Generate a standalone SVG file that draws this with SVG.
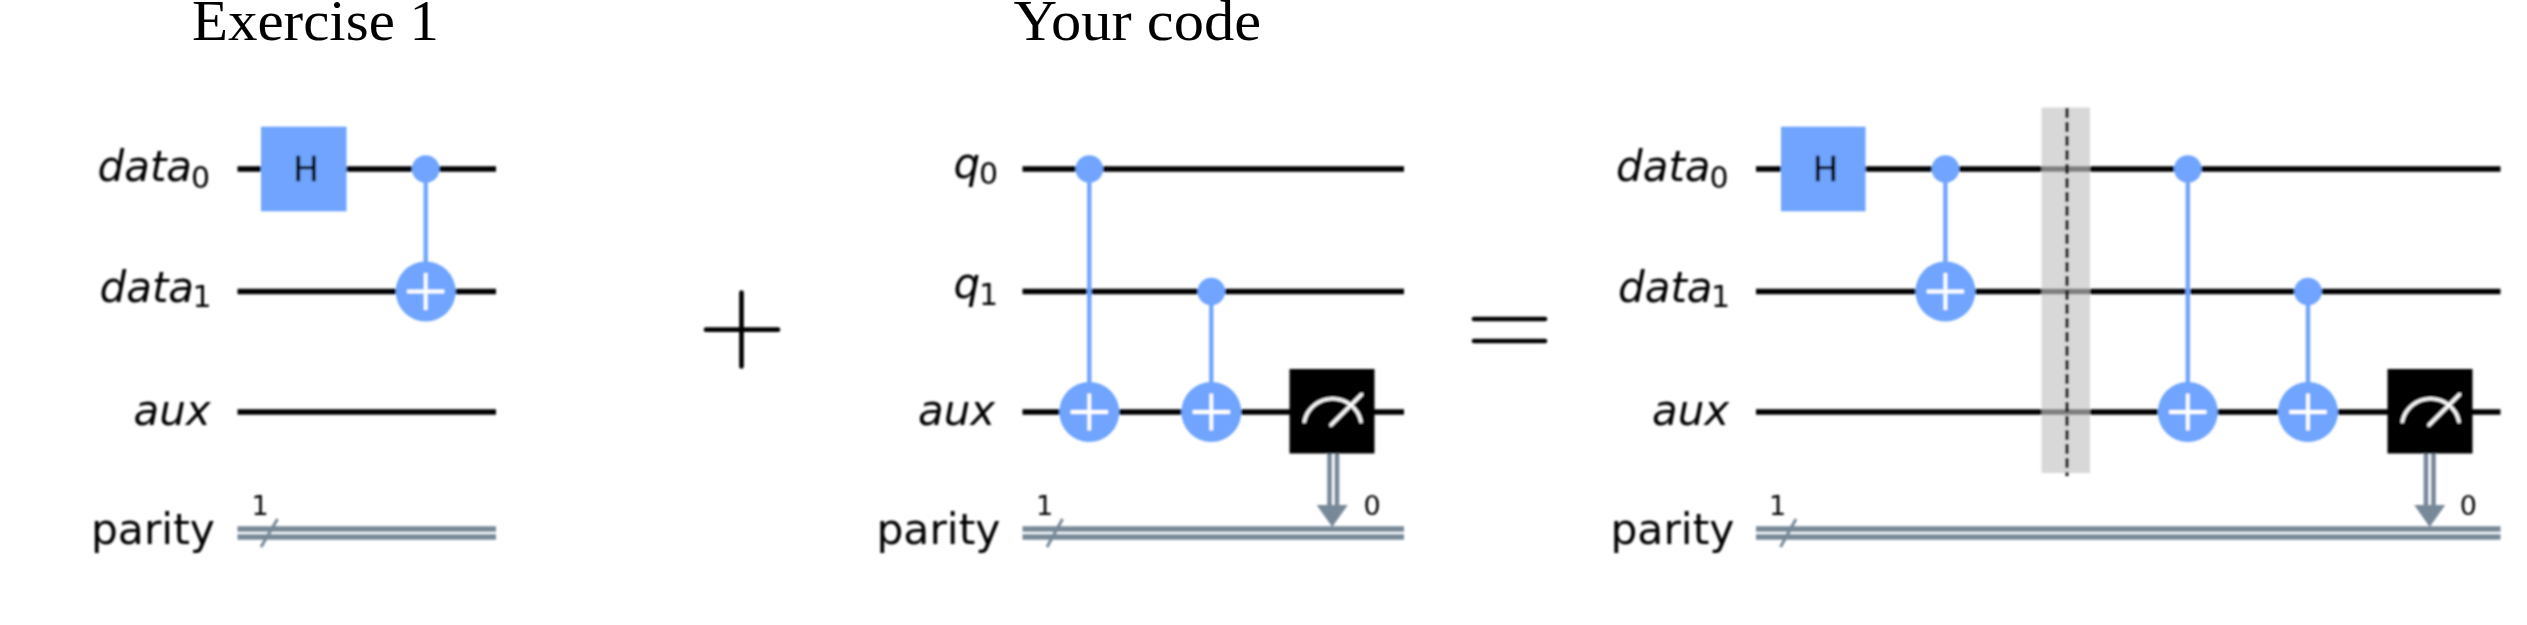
<svg xmlns="http://www.w3.org/2000/svg" width="2527" height="625" viewBox="0 0 2527 625">
<style>
text{font-family:"DejaVu Sans",sans-serif;fill:#000}
.title{font-family:"Liberation Serif","Times New Roman",serif;font-size:56px;filter:url(#s1)}
.lab{font-size:42px}
.par{font-size:42.5px;text-anchor:end}
.it{font-style:italic}
.sub{font-size:30px}
.num{font-size:27px;text-anchor:middle}
.gate{font-size:34px;text-anchor:middle;stroke:#000;stroke-width:.5}
.w{stroke:#000;stroke-width:5.4;fill:none}
.c{stroke:#778899;stroke-width:5.4;fill:none}
.sl{stroke:#778899;stroke-width:3;fill:none}
.v{stroke:#6fa4ff;stroke-width:4.4;fill:none}
.blue{fill:#6fa4ff}
.plus{stroke:#fff;stroke-width:3.8;fill:none}
.m{stroke:#fff;stroke-width:3.4;fill:none;stroke-linecap:round}
.arr{fill:#778899}
.bar{fill:#c3c3c3;fill-opacity:.65}
.dash{stroke:#000;stroke-width:3;stroke-dasharray:10 4;fill:none}
.op{stroke:#000;stroke-width:4.7;stroke-linecap:round;fill:none}
.soft{filter:url(#s2)}
</style>
<defs>
<filter id="s1" x="-5%" y="-20%" width="110%" height="140%"><feGaussianBlur stdDeviation="0.5"/></filter>
<filter id="s2" filterUnits="userSpaceOnUse" x="0" y="0" width="2527" height="625"><feGaussianBlur stdDeviation="0.8"/></filter>
</defs>
<rect width="2527" height="625" fill="#fff"/>
<text id="title-exercise" class="title" x="192" y="40" textLength="247" lengthAdjust="spacingAndGlyphs">Exercise 1</text>
<text id="title-code" class="title" x="1013.5" y="40" textLength="247.5" lengthAdjust="spacingAndGlyphs">Your code</text>
<g class="soft">
<g id="connectors">
<path class="w" d="M237.5 169H496M237.5 291.5H496M237.5 412H496"/>
<path class="c" d="M237.5 529H496M237.5 537H496"/>
<path class="sl" d="M261 547L277.5 519"/>
<path class="v" d="M425.7 169V291.5"/>
<path class="w" d="M1022.5 169H1404M1022.5 291.5H1404M1022.5 412H1404"/>
<path class="c" d="M1022.5 529H1404M1022.5 537H1404"/>
<path class="sl" d="M1047 547L1062.5 519"/>
<path class="v" d="M1089.3 169V412M1211.3 291.5V412"/>
<path class="c" style="stroke-width:4.6" d="M1329.5 453V508M1337 453V508"/>
<path class="w" d="M1756 169H2500.5M1756 291.5H2500.5M1756 412H2500.5"/>
<path class="c" d="M1756 529H2500.5M1756 537H2500.5"/>
<path class="sl" d="M1780.5 547L1796 519"/>
<path class="v" d="M1945.4 169V291.5M2187.8 169V412M2308 291.5V412"/>
<path class="c" style="stroke-width:4.6" d="M2426 453V508M2433.5 453V508"/>
</g>
<g id="circuit-exercise">
<g id="ex-label-data0"><text class="lab it" x="97.5" y="181">data</text><text class="sub" x="191" y="187.5">0</text></g>
<g id="ex-label-data1"><text class="lab it" x="99.5" y="302">data</text><text class="sub" x="192.5" y="306.5">1</text></g>
<text id="ex-label-aux" class="lab it" x="133.5" y="425">aux</text>
<text id="ex-label-parity" class="par" x="215" y="544">parity</text>
<text id="ex-size" class="num" x="260" y="515">1</text>
<g id="ex-h"><rect class="blue" x="261" y="126.7" width="85.5" height="84.6"/><text class="gate" x="306" y="181">H</text></g>
<circle id="ex-ctrl" class="blue" cx="425.7" cy="169" r="13.8"/>
<g id="ex-target"><circle class="blue" cx="425.7" cy="291.5" r="30"/><path class="plus" d="M407 291.5H444.4M425.7 273V310"/></g>
</g>
<g id="circuit-code">
<g id="code-label-q0"><text class="lab it" x="953.5" y="178">q</text><text class="sub" x="979" y="184">0</text></g>
<g id="code-label-q1"><text class="lab it" x="953.5" y="298">q</text><text class="sub" x="979" y="305">1</text></g>
<text id="code-label-aux" class="lab it" x="918" y="425">aux</text>
<text id="code-label-parity" class="par" x="1000.5" y="544">parity</text>
<text id="code-size" class="num" x="1044.6" y="515">1</text>
<text id="code-bit" class="num" x="1372" y="515">0</text>
<circle id="code-ctrl0" class="blue" cx="1089.3" cy="169" r="13.8"/>
<circle id="code-ctrl1" class="blue" cx="1211.3" cy="291.5" r="13.8"/>
<g id="code-target0"><circle class="blue" cx="1089.3" cy="412" r="30"/><path class="plus" d="M1070.6 412H1108M1089.3 393.5V430.5"/></g>
<g id="code-target1"><circle class="blue" cx="1211.3" cy="412" r="30"/><path class="plus" d="M1192.6 412H1230M1211.3 393.5V430.5"/></g>
<g id="code-measure"><rect x="1289.5" y="369" width="85" height="84.5"/><path class="m" d="M1304.3 421.5A29 29 0 0 1 1361 421.5M1331 425L1361.5 394.5"/></g>
<path id="code-arrow" class="arr" d="M1316.7 505H1347.7L1332.2 527Z"/>
</g>
<g id="circuit-result">
<g id="res-label-data0"><text class="lab it" x="1616" y="181">data</text><text class="sub" x="1709.5" y="187.5">0</text></g>
<g id="res-label-data1"><text class="lab it" x="1618" y="302">data</text><text class="sub" x="1711" y="306.5">1</text></g>
<text id="res-label-aux" class="lab it" x="1652" y="425">aux</text>
<text id="res-label-parity" class="par" x="1734.5" y="544">parity</text>
<text id="res-size" class="num" x="1777.7" y="515">1</text>
<text id="res-bit" class="num" x="2468.4" y="515">0</text>
<g id="res-h"><rect class="blue" x="1781" y="126.7" width="84.5" height="84.6"/><text class="gate" x="1825.5" y="181">H</text></g>
<circle id="res-ctrl0" class="blue" cx="1945.4" cy="169" r="13.8"/>
<g id="res-target0"><circle class="blue" cx="1945.4" cy="291.5" r="30"/><path class="plus" d="M1926.7 291.5H1964.1M1945.4 273V310"/></g>
<g id="res-barrier"><rect class="bar" x="2041.5" y="107.5" width="48.5" height="365.5"/><path class="dash" d="M2067 108V476"/></g>
<circle id="res-ctrl1" class="blue" cx="2187.8" cy="169" r="13.8"/>
<circle id="res-ctrl2" class="blue" cx="2308" cy="291.5" r="13.8"/>
<g id="res-target1"><circle class="blue" cx="2187.8" cy="412" r="30"/><path class="plus" d="M2169.1 412H2206.5M2187.8 393.5V430.5"/></g>
<g id="res-target2"><circle class="blue" cx="2308" cy="412" r="30"/><path class="plus" d="M2289.3 412H2326.7M2308 393.5V430.5"/></g>
<g id="res-measure"><rect x="2387.5" y="369" width="85" height="84.5"/><path class="m" d="M2402.3 421.5A29 29 0 0 1 2459 421.5M2429 425L2459.5 394.5"/></g>
<path id="res-arrow" class="arr" d="M2414.2 505H2445.2L2429.7 527Z"/>
</g>
<g id="op-plus"><path class="op" d="M706 329.7H778M741.5 292.5V366.5"/></g>
<g id="op-equals"><path class="op" d="M1474 319H1545M1474 341H1545"/></g>
</g>
</svg>
